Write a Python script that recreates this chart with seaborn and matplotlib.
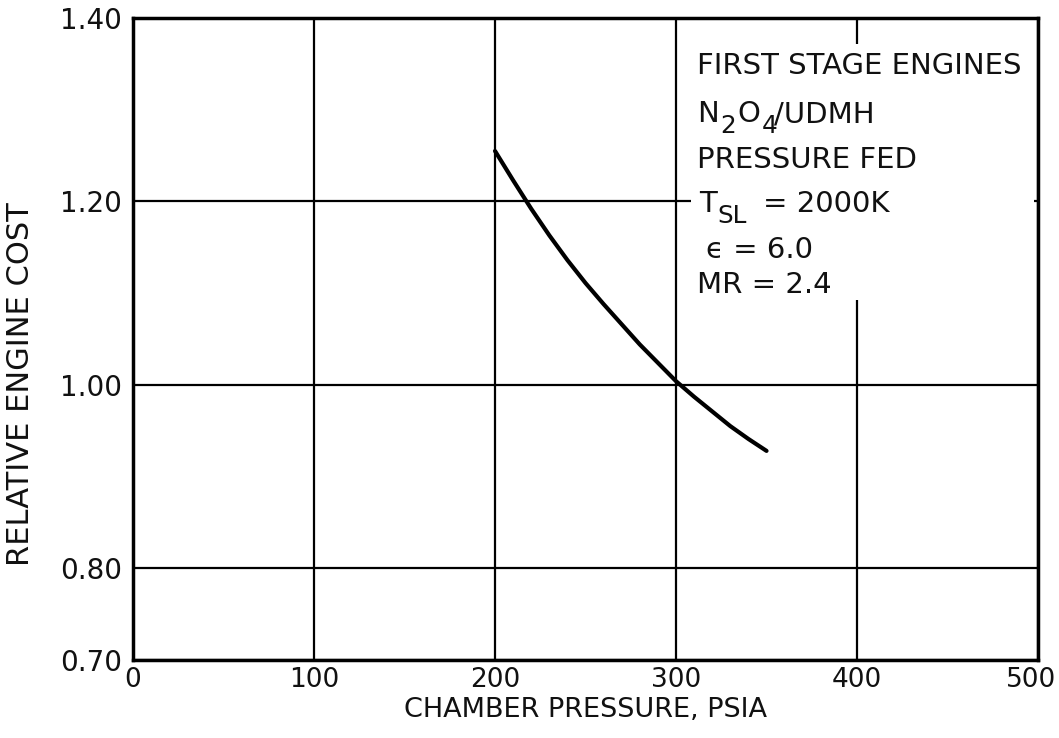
import numpy as np
import pandas as pd
import matplotlib
matplotlib.use("Agg")
import matplotlib.pyplot as plt
import matplotlib.patches as mpatches
import matplotlib.transforms as mtransforms
import seaborn as sns

# values
pressure = [200, 210, 220, 230, 240, 250, 260, 270, 280, 290, 300,
            310, 320, 330, 340, 350]
cost = [1.255, 1.223, 1.192, 1.163, 1.136, 1.111, 1.088, 1.066, 1.044,
        1.024, 1.004, 0.987, 0.971, 0.955, 0.941, 0.928]

x_ticks = [0, 100, 200, 300, 400, 500]
y_ticks = [0.70, 0.80, 1.00, 1.20, 1.40]
y_labels = ["0.70", "0.80", "1.00", "1.20", "1.40"]

df = pd.DataFrame({"pressure": pressure, "cost": cost})

sns.set_style("white")
plt.rcParams["font.family"] = ["DejaVu Sans"]

fig = plt.figure(figsize=(10.59, 7.38), dpi=100)
ax = fig.add_axes([0.1256, 0.1057, 0.8546, 0.8699])

sns.lineplot(data=df, x="pressure", y="cost", color="black", linewidth=3,
             ax=ax, zorder=4)

ax.set_xlim(0, 500)
ax.set_ylim(0.70, 1.40)
ax.set_xticks(x_ticks)
ax.set_yticks(y_ticks)
ax.set_yticklabels(y_labels)
ax.grid(True, color="black", linewidth=1.6)
ax.tick_params(axis="both", length=0, colors="#111111")
ax.tick_params(axis="x", pad=5, labelsize=19)
ax.tick_params(axis="y", pad=8, labelsize=20)
for s in ax.spines.values():
    s.set_color("black")
    s.set_linewidth(2.5)

# nudge the last x label inward so it stays on the canvas
last = ax.get_xticklabels()[-1]
last.set_transform(last.get_transform() +
                   mtransforms.ScaledTranslation(-5 / 72, 0,
                                                 fig.dpi_scale_trans))

ax.set_xlabel("CHAMBER PRESSURE, PSIA", fontsize=19.5, labelpad=3,
              color="#111111")
ax.set_ylabel("RELATIVE ENGINE COST", fontsize=22, color="#111111")
ax.yaxis.set_label_coords(-0.108, 0.43)

# the note block sits on a blank patch of the chart
ax.add_patch(mpatches.Rectangle((0.617, 0.56), 0.378, 0.40,
                                transform=ax.transAxes, facecolor="white",
                                edgecolor="none", zorder=3))

fs = 21
tx = 0.623
kw = dict(fontsize=fs, color="#111111", va="baseline", ha="left", zorder=5)
skw = dict(fontsize=fs * 0.85, color="#111111", va="baseline", ha="left",
           zorder=5)

ax.text(tx, 0.913, "FIRST STAGE ENGINES", transform=ax.transAxes, **kw)

yb = 0.838
n = ax.text(tx, yb, "N", transform=ax.transAxes, **kw)
s2 = ax.annotate("2", xy=(1, yb), xycoords=(n, "axes fraction"),
                 xytext=(1, -8), textcoords="offset points", **skw)
o = ax.annotate("O", xy=(1, yb), xycoords=(s2, "axes fraction"),
                xytext=(1, 0), textcoords="offset points", **kw)
s4 = ax.annotate("4", xy=(1, yb), xycoords=(o, "axes fraction"),
                 xytext=(1, -8), textcoords="offset points", **skw)
ax.annotate("/UDMH", xy=(1, yb), xycoords=(s4, "axes fraction"),
            xytext=(-2, 0), textcoords="offset points", **kw)

ax.text(tx, 0.766, "PRESSURE FED", transform=ax.transAxes, **kw)

yb = 0.698
t = ax.text(tx + 0.003, yb, "T", transform=ax.transAxes, **kw)
sl = ax.annotate("SL", xy=(1, yb), xycoords=(t, "axes fraction"),
                 xytext=(0, -8), textcoords="offset points", **skw)
ax.annotate("= 2000K", xy=(1, yb), xycoords=(sl, "axes fraction"),
            xytext=(12, 0), textcoords="offset points", **kw)

ax.text(tx + 0.010, 0.626, "\u03f5 = 6.0", transform=ax.transAxes, **kw)
ax.text(tx, 0.572, "MR = 2.4", transform=ax.transAxes, **kw)

fig.savefig("out.png", dpi=100)
